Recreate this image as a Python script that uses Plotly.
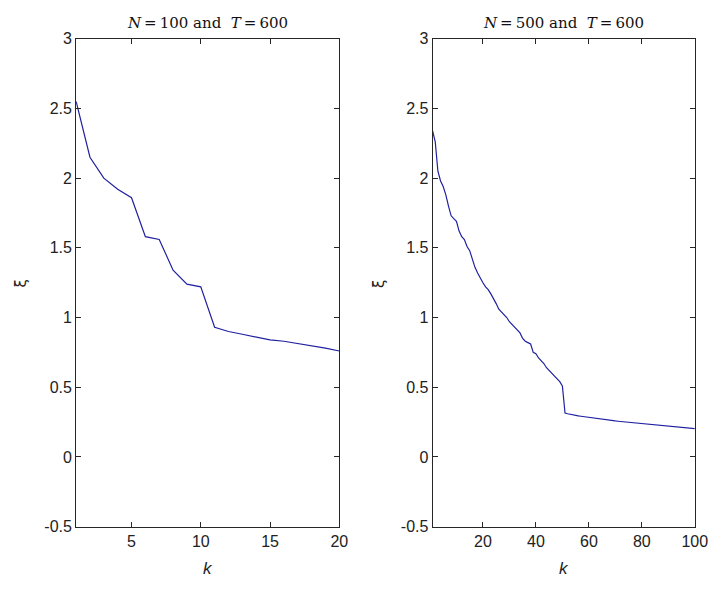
import plotly.graph_objects as go

# ---------------- data ----------------
k_left = list(range(1, 21))
xi_left = [2.55, 2.15, 2.00, 1.92, 1.86, 1.58, 1.56, 1.34, 1.24, 1.22,
           0.93, 0.90, 0.88, 0.86, 0.84, 0.83, 0.815, 0.80, 0.78, 0.76]

k_right = list(range(1, 101))
xi_right = [2.34, 2.26, 2.05, 1.98, 1.94, 1.88, 1.80, 1.73, 1.71, 1.69,
            1.62, 1.58, 1.56, 1.51, 1.48, 1.41, 1.36, 1.32, 1.28, 1.25,
            1.22, 1.20, 1.17, 1.14, 1.10, 1.06, 1.04, 1.02, 1.00, 0.97,
            0.95, 0.93, 0.91, 0.89, 0.85, 0.83, 0.82, 0.81, 0.75, 0.74,
            0.71, 0.69, 0.67, 0.64, 0.62, 0.60, 0.58, 0.56, 0.54, 0.51,
            0.315, 0.31, 0.305, 0.30, 0.298, 0.295, 0.292, 0.289, 0.286, 0.283,
            0.280, 0.277, 0.274, 0.272, 0.270, 0.267, 0.265, 0.263, 0.261, 0.258,
            0.256, 0.254, 0.252, 0.250, 0.248, 0.246, 0.244, 0.242, 0.240, 0.238,
            0.236, 0.234, 0.232, 0.230, 0.229, 0.227, 0.225, 0.223, 0.222, 0.220,
            0.218, 0.216, 0.215, 0.213, 0.211, 0.210, 0.208, 0.206, 0.205, 0.203]

y_tickvals = [-0.5, 0, 0.5, 1, 1.5, 2, 2.5, 3]
y_ticktext = ["-0.5", "0", "0.5", "1", "1.5", "2", "2.5", "3"]
x_left_ticks = [5, 10, 15, 20]
x_right_ticks = [20, 40, 60, 80, 100]

title_left = "<i>N</i>\u2009=\u2009100 and\u00a0 <i>T</i>\u2009=\u2009600"
title_right = "<i>N</i>\u2009=\u2009500 and\u00a0 <i>T</i>\u2009=\u2009600"

# ---------------- figure ----------------
W, H = 725, 590
LINE_COLOR = "#2020a0"
AXIS_COLOR = "#262626"
TICK_FONT = dict(family="Liberation Sans, Arial, sans-serif", size=16, color="#222222")

fig = go.Figure()
fig.add_trace(go.Scatter(x=k_left, y=xi_left, mode="lines",
                         line=dict(color=LINE_COLOR, width=1.2),
                         xaxis="x", yaxis="y", showlegend=False))
fig.add_trace(go.Scatter(x=k_right, y=xi_right, mode="lines",
                         line=dict(color=LINE_COLOR, width=1.2),
                         xaxis="x2", yaxis="y2", showlegend=False))

def px_x(p):
    return p / W

def px_y(p):
    return 1 - p / H

ydom = [px_y(534), px_y(31.7)]

common_axis = dict(showgrid=False, zeroline=False, showline=True,
                   linecolor=AXIS_COLOR, linewidth=1, mirror="ticks",
                   ticks="inside", ticklen=5, tickwidth=1, tickcolor=AXIS_COLOR,
                   tickfont=TICK_FONT)

fig.update_layout(
    width=W, height=H,
    margin=dict(l=0, r=0, t=0, b=0),
    paper_bgcolor="white", plot_bgcolor="white",
    xaxis=dict(domain=[px_x(77.5), px_x(345.5)], range=[1, 20],
               tickvals=x_left_ticks, ticktext=[str(v) for v in x_left_ticks],
               anchor="y", **common_axis),
    yaxis=dict(domain=ydom, range=[-0.5, 3], tickvals=y_tickvals,
               ticktext=y_ticktext, anchor="x", **common_axis),
    xaxis2=dict(domain=[px_x(440.5), px_x(707.5)], range=[1, 100],
                tickvals=x_right_ticks, ticktext=[str(v) for v in x_right_ticks],
                anchor="y2", **common_axis),
    yaxis2=dict(domain=ydom, range=[-0.5, 3], tickvals=y_tickvals,
                ticktext=y_ticktext, anchor="x2", **common_axis),
)

TITLE_FONT = dict(family="DejaVu Serif, Liberation Serif, serif", size=15, color="#111111")
annos = [
    dict(text=title_left, x=px_x(211.5), y=px_y(15), font=TITLE_FONT),
    dict(text=title_right, x=px_x(574), y=px_y(15), font=TITLE_FONT),
    dict(text="<i>k</i>", x=px_x(211.5), y=px_y(577),
         font=dict(family="Liberation Sans, Arial, sans-serif", size=17, color="#222222")),
    dict(text="<i>k</i>", x=px_x(574), y=px_y(577),
         font=dict(family="Liberation Sans, Arial, sans-serif", size=17, color="#222222")),
    dict(text="ξ", x=px_x(21), y=px_y(284), textangle=-90,
         font=dict(family="DejaVu Sans, sans-serif", size=15, color="#222222")),
    dict(text="ξ", x=px_x(386), y=px_y(284), textangle=-90,
         font=dict(family="DejaVu Sans, sans-serif", size=15, color="#222222")),
]
for a in annos:
    fig.add_annotation(xref="paper", yref="paper", showarrow=False,
                       xanchor="center", yanchor="middle", **a)

fig.write_html("out.html")
